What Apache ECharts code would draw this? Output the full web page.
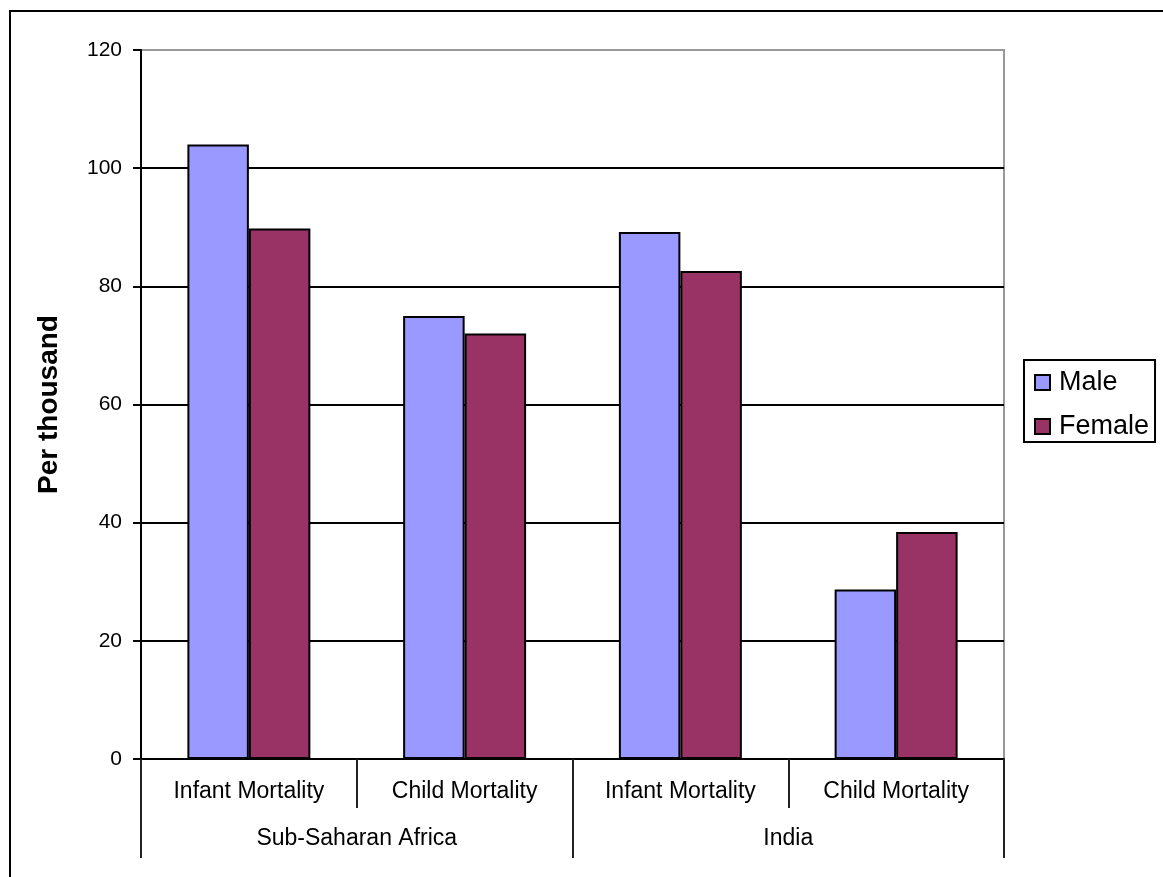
<!DOCTYPE html>
<html>
<head>
<meta charset="utf-8">
<title>Infant and child mortality by sex</title>
<script src="https://cdn.jsdelivr.net/npm/echarts@6/dist/echarts.min.js"></script>
<style>
  html, body { margin: 0; padding: 0; background: #fff; }
  #chart { width: 1163px; height: 877px; }
</style>
</head>
<body>
<div id="chart"></div>
<script>
// Mortality measures per region (inner axis) and the regions (outer axis)
const categories = ['Infant Mortality', 'Child Mortality', 'Infant Mortality', 'Child Mortality'];
const regions = ['Sub-Saharan Africa', 'India'];
const seriesNames = ['Male', 'Female'];
const maleValues = [104, 75, 89.2, 28.7];
const femaleValues = [89.8, 72, 82.6, 38.4];
const yTicks = { min: 0, max: 120, interval: 20 };

const FONT = '"Liberation Sans", Arial, sans-serif';
const chart = echarts.init(document.getElementById('chart'));

chart.setOption({
  backgroundColor: '#ffffff',
  animation: false,
  graphic: [{
    type: 'rect',
    shape: { x: 10, y: 11, width: 1200, height: 900 },
    style: { fill: 'none', stroke: '#000', lineWidth: 2 },
    silent: true
  }],
  legend: {
    orient: 'vertical',
    left: 1024,
    top: 360,
    data: seriesNames,
    icon: 'rect',
    itemWidth: 15,
    itemHeight: 15,
    itemGap: 17,
    padding: [9, 6, 2, 10],
    borderColor: '#000',
    borderWidth: 2,
    textStyle: { fontFamily: FONT, fontSize: 27, color: '#000', padding: [0, 0, 0, 4] }
  },
  grid: {
    left: 141, top: 50, right: 159, bottom: 118,
    show: true, borderColor: '#999', borderWidth: 2, backgroundColor: 'transparent'
  },
  xAxis: [{
    type: 'category',
    data: categories,
    position: 'bottom',
    axisLine: { lineStyle: { color: '#000', width: 2 } },
    axisTick: { show: true, length: 49, alignWithLabel: false, lineStyle: { color: '#222', width: 2 } },
    axisLabel: { fontFamily: FONT, fontSize: 23, color: '#000', margin: 21, interval: 0 }
  }, {
    type: 'category',
    data: regions,
    position: 'bottom',
    axisLine: { show: false },
    axisTick: { show: true, length: 99, alignWithLabel: false, lineStyle: { color: '#222', width: 2 } },
    axisLabel: { fontFamily: FONT, fontSize: 23, color: '#000', margin: 68, interval: 0 }
  }],
  yAxis: {
    type: 'value',
    min: yTicks.min,
    max: yTicks.max,
    interval: yTicks.interval,
    name: 'Per thousand',
    nameLocation: 'middle',
    nameRotate: 90,
    nameGap: 78,
    nameTextStyle: { fontFamily: FONT, fontSize: 28, fontWeight: 'bold', color: '#000' },
    axisLine: { show: true, lineStyle: { color: '#000', width: 2 } },
    axisTick: { show: true, length: 8, lineStyle: { color: '#000', width: 2 } },
    axisLabel: { fontFamily: FONT, fontSize: 21, color: '#000', margin: 19 },
    splitLine: {
      show: true,
      lineStyle: { color: ['#000', '#000', '#000', '#000', '#000', '#000', '#999'], width: 2 }
    }
  },
  series: [{
    name: seriesNames[0],
    type: 'bar',
    xAxisIndex: 0,
    data: maleValues,
    barGap: '0%',
    barCategoryGap: '43%',
    itemStyle: { color: '#9999FF', borderColor: '#000', borderWidth: 2 }
  }, {
    name: seriesNames[1],
    type: 'bar',
    xAxisIndex: 0,
    data: femaleValues,
    barGap: '0%',
    barCategoryGap: '43%',
    itemStyle: { color: '#993366', borderColor: '#000', borderWidth: 2 }
  }]
});
</script>
</body>
</html>
